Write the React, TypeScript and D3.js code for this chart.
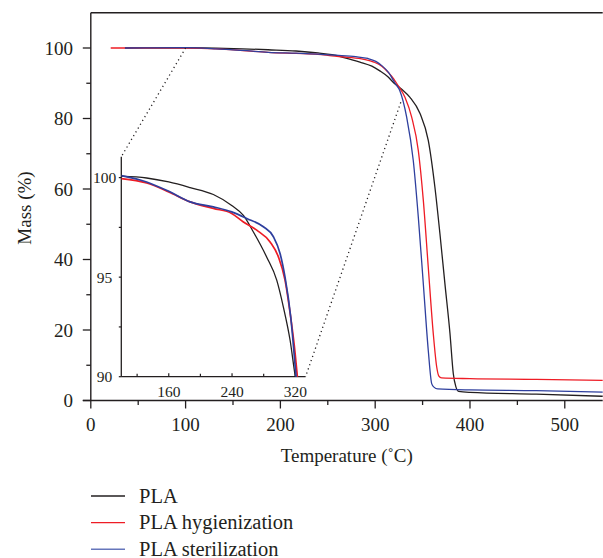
import React from "react";
import * as d3 from "d3";

// ---- Data ----
const plaTemp = [36, 60, 100.1, 132, 160, 187, 216.4, 239.6, 254.4, 267, 283.9, 296.5, 304.9, 313.4, 319.7, 328, 336.7, 347.3, 356, 363, 368.3, 373.6, 378.9, 382.4, 385, 388, 400, 470, 540];
const plaMass = [100, 100.05, 100.07, 99.98, 99.78, 99.5, 99.15, 98.6, 98.1, 97.27, 96.0, 94.85, 93.5, 91.83, 90.08, 88.3, 86, 81.4, 73.8, 60.5, 47.3, 33, 19, 7.6, 4.0, 2.6, 2.3, 1.8, 1.2];

const hygTemp = [21, 60, 100.1, 132, 160, 187, 216.4, 239.6, 254.4, 271.2, 288.1, 298.6, 307, 313.4, 319.7, 322.6, 331.4, 338.5, 345.5, 350.8, 356, 361.3, 364.9, 367, 370, 400, 470, 540];
const hygMass = [100, 100, 99.95, 99.73, 99.28, 98.78, 98.45, 98.2, 97.77, 97.36, 96.77, 96.02, 94.85, 93.2, 91.2, 90, 86, 80.4, 70.9, 56.7, 37.8, 18.9, 9.5, 7.0, 6.4, 6.2, 6.0, 5.7];

const sterTemp = [36, 60, 100.1, 132, 160, 187, 216.4, 239.6, 258.6, 279.6, 292.3, 300.7, 307, 314.2, 321, 326, 333.2, 340.2, 345.5, 350.8, 356, 359.6, 362, 366, 400, 470, 540];
const sterMass = [100, 100.05, 100.1, 99.78, 99.31, 98.78, 98.53, 98.28, 97.95, 97.53, 97.03, 96.19, 95.0, 93.0, 90, 87.9, 80.4, 68, 52, 33, 14.2, 4.8, 3.8, 3.3, 3.0, 2.8, 2.4];

const seriesNames = ["PLA", "PLA hygienization", "PLA sterilization"];
const seriesColors = ["#231f20", "#ee1c25", "#2e3f9e"];
const legendColors = ["#231f20", "#ee1c25", "#6676bb"];

const xTicks = [0, 100, 200, 300, 400, 500];
const xMinorTicks = [50, 150, 250, 350, 450];
const yTicks = [0, 20, 40, 60, 80, 100];
const yMinorTicks = [10, 30, 50, 70, 90];

const insetXTicks = [160, 240, 320];
const insetXMinor = [120, 200, 280];
const insetYTicks = [90, 95, 100];
const insetYMinor = [92.5, 97.5];

// connector anchors: [main-chart point, inset corner]
const connectorMain = [[100, 100], [327, 84.6]];
const connectorInset = [[100, 101.05], [333, 90]];

const FONT = "'Liberation Serif', 'Times New Roman', serif";
const INK = "#231f20";

export default function App() {
  const x = d3.scaleLinear().domain([0, 540]).range([90.8, 602.7]);
  const y = d3.scaleLinear().domain([0, 110]).range([400.5, 12.75]);
  const ix = d3.scaleLinear().domain([100, 333]).range([121.3, 305.6]);
  const iy = d3.scaleLinear().domain([90, 101.05]).range([376.7, 156.7]);

  const series = [
    { t: plaTemp, m: plaMass },
    { t: hygTemp, m: hygMass },
    { t: sterTemp, m: sterMass },
  ];

  const mainLine = d3
    .line<[number, number]>()
    .x((d) => x(d[0]))
    .y((d) => y(d[1]))
    .curve(d3.curveMonotoneX);
  const insetLine = d3
    .line<[number, number]>()
    .x((d) => ix(d[0]))
    .y((d) => iy(d[1]))
    .curve(d3.curveMonotoneX);

  const pts = (s: { t: number[]; m: number[] }) =>
    s.t.map((t, i) => [t, s.m[i]] as [number, number]);

  const x0 = x.range()[0];
  const yb = y(0);
  const yTop = y.range()[1];

  return (
    <svg
      width={603}
      height={558}
      style={{ position: "absolute", left: 0, top: 0, background: "#fff" }}
      fontFamily={FONT}
    >
      <defs>
        <clipPath id="insetClip">
          <rect x={ix.range()[0]} y={iy.range()[1]} width={ix.range()[1] - ix.range()[0] + 2} height={iy.range()[0] - iy.range()[1]} />
        </clipPath>
      </defs>

      {/* main frame */}
      <line x1={x0} x2={x.range()[1]} y1={yTop} y2={yTop} stroke={INK} strokeWidth={1.3} />
      <line x1={x0} x2={x0} y1={yTop} y2={yb} stroke={INK} strokeWidth={1.4} />
      <line x1={x0 - 8} x2={x.range()[1]} y1={yb} y2={yb} stroke={INK} strokeWidth={1.4} />

      {/* x ticks */}
      {xTicks.map((t) => (
        <g key={"xt" + t}>
          <line x1={x(t)} x2={x(t)} y1={yb} y2={yb + 8} stroke={INK} strokeWidth={1.3} />
          <text x={x(t)} y={431} textAnchor="middle" fontSize={19} fill={INK}>
            {t}
          </text>
        </g>
      ))}
      {xMinorTicks.map((t) => (
        <line key={"xm" + t} x1={x(t)} x2={x(t)} y1={yb} y2={yb + 4.5} stroke={INK} strokeWidth={1.3} />
      ))}

      {/* y ticks */}
      {yTicks.map((t) => (
        <g key={"yt" + t}>
          <line x1={x0 - 8} x2={x0} y1={y(t)} y2={y(t)} stroke={INK} strokeWidth={1.3} />
          <text x={73} y={y(t)} dy="0.35em" textAnchor="end" fontSize={19} fill={INK}>
            {t}
          </text>
        </g>
      ))}
      {yMinorTicks.map((t) => (
        <line key={"ym" + t} x1={x0 - 4.5} x2={x0} y1={y(t)} y2={y(t)} stroke={INK} strokeWidth={1.3} />
      ))}

      {/* axis titles */}
      <text x={(x0 + x.range()[1]) / 2} y={461.5} textAnchor="middle" fontSize={19} fill={INK}>
        Temperature (˚C)
      </text>
      <text
        transform={`translate(31,208) rotate(-90)`}
        textAnchor="middle"
        fontSize={19}
        fill={INK}
      >
        Mass (%)
      </text>

      {/* main curves */}
      {series.map((s, i) => (
        <path key={"ml" + i} d={mainLine(pts(s)) || ""} fill="none" stroke={seriesColors[i]} strokeWidth={1.3} />
      ))}

      {/* dotted connectors */}
      {connectorMain.map((p, i) => (
        <line
          key={"cn" + i}
          x1={x(p[0])}
          y1={y(p[1])}
          x2={ix(connectorInset[i][0])}
          y2={iy(connectorInset[i][1])}
          stroke={INK}
          strokeWidth={1.3}
          strokeDasharray="1.2 3.2"
        />
      ))}

      {/* inset axes */}
      <line x1={ix.range()[0]} x2={ix.range()[0]} y1={iy.range()[1]} y2={iy.range()[0]} stroke={INK} strokeWidth={1.3} />
      <line x1={ix.range()[0]} x2={ix.range()[1]} y1={iy.range()[0]} y2={iy.range()[0]} stroke={INK} strokeWidth={1.3} />
      {insetXTicks.map((t) => (
        <g key={"ixt" + t}>
          <line x1={ix(t)} x2={ix(t)} y1={iy.range()[0]} y2={iy.range()[0] - 3.5} stroke={INK} strokeWidth={1.2} />
          <text x={ix(t)} y={397} textAnchor="middle" fontSize={15.5} fill={INK}>
            {t}
          </text>
        </g>
      ))}
      {insetXMinor.map((t) => (
        <line key={"ixm" + t} x1={ix(t)} x2={ix(t)} y1={iy.range()[0]} y2={iy.range()[0] - 3} stroke={INK} strokeWidth={1.2} />
      ))}
      {insetYTicks.map((t) => (
        <g key={"iyt" + t}>
          <line x1={ix.range()[0] - 2.5} x2={ix.range()[0]} y1={iy(t)} y2={iy(t)} stroke={INK} strokeWidth={1.2} />
          <text x={104.5} y={iy(t)} dy="0.35em" textAnchor="middle" fontSize={15.5} fill={INK}>
            {t}
          </text>
        </g>
      ))}
      {insetYMinor.map((t) => (
        <line key={"iym" + t} x1={ix.range()[0] - 2.5} x2={ix.range()[0]} y1={iy(t)} y2={iy(t)} stroke={INK} strokeWidth={1.2} />
      ))}

      {/* inset curves */}
      <g clipPath="url(#insetClip)">
        {series.map((s, i) => (
          <path
            key={"il" + i}
            d={insetLine(pts(s).filter((d) => d[0] >= 90 && d[0] <= 345)) || ""}
            fill="none"
            stroke={seriesColors[i]}
            strokeWidth={i === 0 ? 1.3 : 1.7}
          />
        ))}
      </g>

      {/* legend */}
      {seriesNames.map((n, i) => {
        const ly = 496 + i * 26.6;
        return (
          <g key={"lg" + i}>
            <line x1={91} x2={125} y1={ly} y2={ly} stroke={legendColors[i]} strokeWidth={1.4} />
            <text x={139} y={ly + 6.5} fontSize={20.5} fill={INK}>
              {n}
            </text>
          </g>
        );
      })}
    </svg>
  );
}
